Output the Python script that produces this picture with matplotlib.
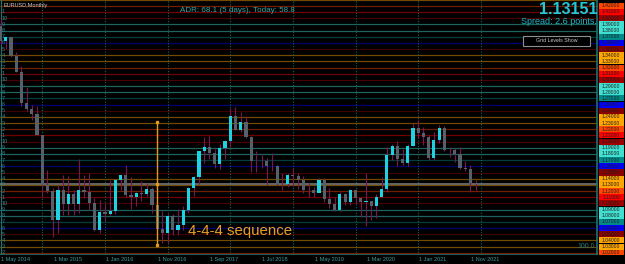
import matplotlib
matplotlib.use('Agg')
from matplotlib import pyplot as plt
from matplotlib.patches import Rectangle
import numpy as np

# EURUSD monthly candles, May 2014 .. Dec 2021
opens = [1.3868, 1.3633, 1.3692, 1.3390, 1.3131, 1.2630, 1.2526, 1.2452,
         1.2100, 1.1290, 1.1196, 1.0731, 1.1224, 1.0987, 1.1146, 1.0985, 1.1212, 1.1177, 1.1003, 1.0564,
         1.0862, 1.0832, 1.0873, 1.1380, 1.1453, 1.1131, 1.1103, 1.1172, 1.1157, 1.1240, 1.0981, 1.0589,
         1.0517, 1.0798, 1.0575, 1.0652, 1.0895, 1.1244, 1.1426, 1.1842, 1.1906, 1.1814, 1.1645, 1.1904,
         1.2005, 1.2414, 1.2193, 1.2324, 1.2077, 1.1693, 1.1684, 1.1689, 1.1602, 1.1605, 1.1312, 1.1316,
         1.1467, 1.1448, 1.1372, 1.1217, 1.1215, 1.1170, 1.1371, 1.1076, 1.0989, 1.0899, 1.1152, 1.1017,
         1.1211, 1.1093, 1.1027, 1.1031, 1.0955, 1.1101, 1.1233, 1.1778, 1.1936, 1.1720, 1.1647, 1.1927,
         1.2216, 1.2136, 1.2074, 1.1728, 1.2019, 1.2227, 1.1858, 1.1869, 1.1807, 1.1580, 1.1558, 1.1337]
highs = [1.3993, 1.3700, 1.3700, 1.3445, 1.3221, 1.2887, 1.2600, 1.2570,
         1.2105, 1.1534, 1.1245, 1.1290, 1.1467, 1.1436, 1.1215, 1.1714, 1.1460, 1.1495, 1.1095, 1.1060,
         1.0986, 1.1376, 1.1388, 1.1464, 1.1616, 1.1428, 1.1186, 1.1366, 1.1327, 1.1258, 1.1300, 1.0874,
         1.0829, 1.0829, 1.0906, 1.0956, 1.1268, 1.1445, 1.1846, 1.2070, 1.2092, 1.1880, 1.1961, 1.2025,
         1.2537, 1.2556, 1.2476, 1.2414, 1.2095, 1.1852, 1.1791, 1.1734, 1.1815, 1.1625, 1.1500, 1.1486,
         1.1570, 1.1489, 1.1448, 1.1324, 1.1264, 1.1412, 1.1412, 1.1249, 1.1109, 1.1179, 1.1175, 1.1239,
         1.1239, 1.1095, 1.1495, 1.1038, 1.1146, 1.1422, 1.1908, 1.1966, 1.2011, 1.1881, 1.1965, 1.2310,
         1.2349, 1.2243, 1.2113, 1.2150, 1.2266, 1.2254, 1.1909, 1.1900, 1.1909, 1.1692, 1.1617, 1.1383]
lows = [1.3587, 1.3503, 1.3366, 1.3131, 1.2571, 1.2501, 1.2358, 1.2101,
        1.1098, 1.1171, 1.0458, 1.0520, 1.0818, 1.0819, 1.0808, 1.0847, 1.1087, 1.0895, 1.0557, 1.0522,
        1.0710, 1.0809, 1.0822, 1.1217, 1.1098, 1.0912, 1.0952, 1.1045, 1.1122, 1.0852, 1.0518, 1.0352,
        1.0340, 1.0494, 1.0494, 1.0570, 1.0839, 1.1118, 1.1312, 1.1662, 1.1718, 1.1574, 1.1554, 1.1718,
        1.1916, 1.2189, 1.2155, 1.2054, 1.1510, 1.1508, 1.1575, 1.1301, 1.1526, 1.1302, 1.1216, 1.1269,
        1.1289, 1.1234, 1.1176, 1.1111, 1.1107, 1.1181, 1.1028, 1.0926, 1.0879, 1.0880, 1.0981, 1.0981,
        1.0992, 1.0778, 1.0636, 1.0727, 1.0767, 1.1168, 1.1185, 1.1696, 1.1612, 1.1622, 1.1603, 1.1925,
        1.2059, 1.1952, 1.1704, 1.1704, 1.1986, 1.1845, 1.1752, 1.1664, 1.1563, 1.1524, 1.1186, 1.1222]
closes = [1.3633, 1.3692, 1.3390, 1.3131, 1.2630, 1.2526, 1.2452, 1.2100,
          1.1290, 1.1196, 1.0731, 1.1224, 1.0987, 1.1146, 1.0985, 1.1212, 1.1177, 1.1003, 1.0564, 1.0862,
          1.0832, 1.0873, 1.1380, 1.1453, 1.1131, 1.1103, 1.1172, 1.1157, 1.1240, 1.0981, 1.0589, 1.0517,
          1.0798, 1.0575, 1.0652, 1.0895, 1.1244, 1.1426, 1.1842, 1.1906, 1.1814, 1.1645, 1.1904, 1.2005,
          1.2414, 1.2193, 1.2324, 1.2077, 1.1693, 1.1684, 1.1689, 1.1602, 1.1605, 1.1312, 1.1316, 1.1467,
          1.1448, 1.1372, 1.1217, 1.1215, 1.1170, 1.1371, 1.1076, 1.0989, 1.0899, 1.1152, 1.1017, 1.1211,
          1.1093, 1.1027, 1.1031, 1.0955, 1.1101, 1.1233, 1.1778, 1.1936, 1.1720, 1.1647, 1.1927, 1.2216,
          1.2136, 1.2074, 1.1728, 1.2019, 1.2227, 1.1858, 1.1869, 1.1807, 1.1580, 1.1558, 1.1337, 1.1315]

date_labels = ['1 May 2014', '1 Mar 2015', '1 Jan 2016', '1 Nov 2016', '1 Sep 2017',
               '1 Jul 2018', '1 May 2019', '1 Mar 2020', '1 Jan 2021', '1 Nov 2021']
date_idx = [0, 10, 20, 30, 40, 50, 60, 70, 80, 90]
january_idx = [8, 20, 32, 44, 56, 68, 80, 92]

levels = [round(1.02 + 0.01 * k, 2) for k in range(41)]
bid = 1.13151
seq_idx = 30
seq_prices = [1.0320, 1.1320, 1.2320]

W, H = 625, 264
fig = plt.figure(figsize=(W / 100, H / 100), dpi=100, facecolor='black')
plt.rcParams['font.family'] = ['Liberation Sans', 'DejaVu Sans']

# pixel layout: plot area 0..598 x, 0..254.7 y
ax = fig.add_axes([0, (H - 254.7) / H, 598 / W, 254.7 / H])
ax.set_facecolor('black')
step = 5.222
ax.set_xlim(-0.5 / step, (598 - 0.5) / step)
ymin, ymax = 1.0169, 1.4294
ax.set_ylim(ymin, ymax)
for s in ax.spines.values():
    s.set_visible(False)
ax.set_xticks([])
ax.set_yticks([])

box_col = {9: '#40e0d0', 8: '#40e0d0', 7: '#008b8b', 6: '#0000ff', 5: '#8b0000',
           4: '#ffa500', 3: '#ffa500', 2: '#ff4500', 1: '#ff0000', 0: '#a00000'}

# grid levels
ax.axhline(1.43, color=box_col[3], alpha=0.45, lw=0.9, zorder=1)
for lv in levels:
    d = int(round(lv * 100)) % 10
    ax.axhline(lv, color=box_col[d], alpha=0.45, lw=0.9, zorder=1)
    if lv < 1.415:
        ax.text(0.4 / step + 0.15, lv, str(d if d else 10), color='#2a9090', fontsize=4,
                va='center', ha='left', zorder=5)

ax.axvline(-0.5 / step + 0.25, color='#1f7070', lw=0.8, zorder=2)
for j in january_idx:
    ax.axvline(j, color='#1d6464', lw=0.8, ls=(0, (1, 1.5)), zorder=1)

# current bid line
ax.axhline(bid, color='#808080', lw=1.1, zorder=2)

# candles
for i in range(len(opens)):
    o, h, l, c = opens[i], highs[i], lows[i], closes[i]
    ax.plot([i, i], [l, h], color='#7b1553', lw=0.8, zorder=3, solid_capstyle='butt')
    up = c >= o
    col = '#1ed2e2' if up else '#56606a'
    lo, hi = min(o, c), max(o, c)
    ax.add_patch(Rectangle((i - 0.3, lo), 0.6, max(hi - lo, 0.0008), facecolor=col,
                           edgecolor='none', zorder=4))

# 4-4-4 sequence line
ax.plot([seq_idx] * 3, seq_prices, color='#e09a20', lw=1, marker='s', ms=1.8, zorder=6)
fig.text(188 / W, 1 - 231 / H, '4-4-4 sequence', color='#e8a020', fontsize=10.8,
         va='center', ha='left')

# bottom axis and right edge
ax.axhline(ymin + 0.0003, color='#1f7070', lw=1.2, zorder=6)
ax.axvline((598 - 0.5) / step - 0.1, color='#1f7070', lw=1.2, zorder=6)
for k, lab in zip(date_idx, date_labels):
    fig.text((0.5 + k * step + 0.8) / W, 1 - 259.5 / H, lab, color='#3a9a9a',
             fontsize=4, va='center', ha='left')

# right price boxes
rax = fig.add_axes([598 / W, (H - 254.7) / H, 27 / W, 254.7 / H])
rax.set_facecolor('black')
rax.set_xlim(0, 27)
rax.set_ylim(ymin, ymax)
rax.axis('off')
for lv in levels:
    d = int(round(lv * 100)) % 10
    rax.add_patch(Rectangle((1, lv - 0.0049), 24.5, 0.0098, facecolor=box_col[d],
                            edgecolor='none', zorder=2))
    rax.text(13.2, lv, '%.5f' % lv, color='#202020', fontsize=3.6, ha='center',
             va='center', zorder=3)

# header texts
fig.text(4 / W, 1 - 5 / H, 'EURUSD,Monthly', color='#c8c8c8', fontsize=4,
         va='center', ha='left')
fig.text(180 / W, 1 - 10 / H, 'ADR: 68.1 (5 days), Today: 58.8', color='#2fa8a8',
         fontsize=5.8, va='center', ha='left')
fig.text(597 / W, 1 - 10 / H, '1.13151', color='#20c8d8', fontsize=11.5,
         fontweight='bold', va='center', ha='right')
fig.text(597 / W, 1 - 22 / H, 'Spread: 2.6 points.', color='#20b8c8', fontsize=6.5,
         va='center', ha='right')

# button
bax = fig.add_axes([0, 0, 1, 1], facecolor='none')
bax.set_xlim(0, W)
bax.set_ylim(H, 0)
bax.axis('off')
bax.add_patch(Rectangle((523, 36), 67, 10, facecolor='black', edgecolor='#909090', lw=0.8))
bax.text(556.5, 41, 'Grid Levels Show', color='#c8c8c8', fontsize=3.8, ha='center', va='center')
bax.text(595, 246.5, '100.0', color='#2a7a7a', fontsize=5, ha='right', va='center')

fig.savefig('out.png', dpi=100, facecolor='black')
